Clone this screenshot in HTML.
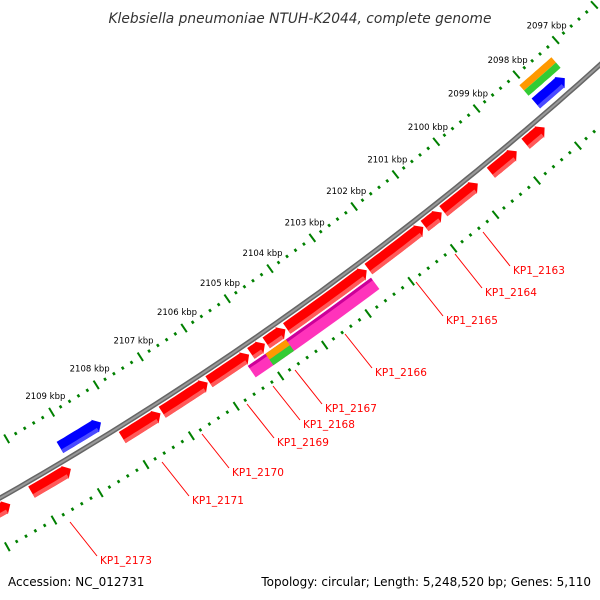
<!DOCTYPE html>
<html><head><meta charset="utf-8"><style>
html,body{margin:0;padding:0;background:#fff;}
svg{display:block;font-family:"DejaVu Sans","Liberation Sans",sans-serif;}
</style></head><body>
<svg id="map" width="600" height="600" viewBox="0 0 600 600" xmlns="http://www.w3.org/2000/svg">
<rect width="600" height="600" fill="#fff"/>
<text x="300" y="23" text-anchor="middle" font-size="13.8" font-style="italic" fill="#333">Klebsiella pneumoniae NTUH-K2044, complete genome</text>
<g id="ticks"></g>
<g id="genes"></g>
<g id="leaders" stroke="#ff0000" stroke-width="1">
</g>
<text x="8" y="586" font-size="12" fill="#000">Accession: NC_012731</text>
<text x="591" y="586" font-size="12" text-anchor="end" fill="#000">Topology: circular; Length: 5,248,520 bp; Genes: 5,110</text>
</svg>
<script>
// data
const kbpTicks = [2097,2098,2099,2100,2101,2102,2103,2104,2105,2106,2107,2108,2109];
const redStarts = [2111.2,2110.10,2108.11,2107.22,2106.17,2105.22,2104.87,2104.40,2102.50,2101.17,2100.72,2099.57,2098.72];
const redEnds   = [2110.56,2109.24,2107.26,2106.20,2105.26,2104.90,2104.43,2102.54,2101.20,2100.76,2099.89,2098.94,2098.25];
const blueStarts = [2109.21,2098.08];
const blueEnds   = [2108.30,2097.35];
const pinkStart = 2105.40, pinkEnd = 2102.56;
const hitStarts = [2098.09,2105.0];
const hitEnds   = [2097.28,2104.53];
const geneLabels = ["KP1_2163","KP1_2164","KP1_2165","KP1_2166","KP1_2167","KP1_2168","KP1_2169","KP1_2170","KP1_2171","KP1_2173"];

const NS="http://www.w3.org/2000/svg";
const svg=document.getElementById('map');
const CX=-1687, CY=-2470, R0=3414;
function ang(k){return (48.22+(k-2097)*0.89)*Math.PI/180;}
function P(r,k){const t=ang(k);return [CX+r*Math.cos(t),CY+r*Math.sin(t)];}
function mk(tag,attrs,parent){const e=document.createElementNS(NS,tag);for(const a in attrs)e.setAttribute(a,attrs[a]);(parent||svg).appendChild(e);return e;}
function band(a,b,r1,r2){const pts=[];const n=12;for(let i=0;i<=n;i++)pts.push(P(r1,a+(b-a)*i/n));for(let i=n;i>=0;i--)pts.push(P(r2,a+(b-a)*i/n));return pts.map(p=>p[0].toFixed(1)+','+p[1].toFixed(1)).join(' ');}
function arrow(s,e,r1,r2){const h=7/R0*180/Math.PI/0.89;const m=e+h;const pts=[];const n=10;
 for(let i=0;i<=n;i++)pts.push(P(r1,s+(m-s)*i/n));pts.push(P(r1-1,m));pts.push(P((r1+r2)/2,e));pts.push(P(r2+1,m));
 for(let i=n;i>=0;i--)pts.push(P(r2,s+(m-s)*i/n));return pts.map(p=>p[0].toFixed(1)+','+p[1].toFixed(1)).join(' ');}
const tg=document.getElementById('ticks'), gg=document.getElementById('genes');

for(let k=2096.0;k<=2112.01;k+=0.2){
 const kk=Math.round(k*10)/10; const major=Math.abs(kk-Math.round(kk))<0.01;
 [3366,3460].forEach(r=>{
  const len=major?5:1.5;
  const a=P(r-len,kk), b=P(r+len,kk);
  const l=mk('line',{x1:a[0],y1:a[1],x2:b[0],y2:b[1],stroke:'#008000','stroke-width':major?2:2.5},tg);
  
  
 });
}
kbpTicks.forEach(k=>{
 const p=P(3348,k);
 const t=mk('text',{x:p[0]+3,y:p[1]+2,'text-anchor':'middle','font-size':'8.5',fill:'#000'},tg);
 t.textContent=k+' kbp';
 
 
});

(function(){const pts=[];for(let k=2096;k<=2112;k+=0.25)pts.push(P(R0,k));
 const d='M'+pts.map(p=>p[0].toFixed(1)+' '+p[1].toFixed(1)).join(' L');
 const b=mk('path',{d:d,stroke:'#666',fill:'none','stroke-width':5},gg);
 
 
 const b2=mk('path',{d:d,stroke:'#999',fill:'none','stroke-width':2},gg);
 
 })();

redStarts.forEach((s,i)=>{
 const e=redEnds[i];
 const g=mk('polygon',{points:arrow(s,e,R0+4,R0+17),fill:'#ff0000'},gg);
 
 
 const sh=mk('polygon',{points:band(s,e+0.12,R0+13,R0+17),fill:'#ff5a5a'},gg);
 
 
});
blueStarts.forEach((s,i)=>{
 const g=mk('polygon',{points:arrow(s,blueEnds[i],R0-20,R0-7),fill:'#0000ff'},gg);
 
 
 const sh=mk('polygon',{points:band(s,blueEnds[i]+0.12,R0-11,R0-7),fill:'#4a4aff'},gg);
 
 
});
(function(){
 const g=mk('polygon',{points:band(pinkStart,pinkEnd,3433,3447),fill:'#ff33bb'},gg);
 
 
 const e=mk('polygon',{points:band(pinkStart,pinkEnd,3433,3436),fill:'#cc0099'},gg);
 
 
})();
hitStarts.forEach((s,i)=>{
 const inner=i===1; const r=inner?3433:3376;
 const o=mk('polygon',{points:band(s,hitEnds[i],r,r+7),fill:'#ff9900'},gg);
 
 
 const gr=mk('polygon',{points:band(s,hitEnds[i],r+7,r+14),fill:'#33cc33'},gg);
 
 
});

const labelPos=[[513,274],[485,296],[446,324],[375,376],[325,412],[303,428],[277,446],[232,476],[192,504],[100,564]];
const lg=document.getElementById('leaders');
geneLabels.forEach((name,i)=>{
 const [x,y]=labelPos[i];
 const l=mk('line',{x1:x-30,y1:y-42,x2:x-3,y2:y-8},lg);
 
 
 const t=mk('text',{x:x,y:y,'font-size':'10.5',fill:'#ff0000',stroke:'none'},lg);
 t.textContent=name;
 
 
});
</script>
</body></html>
